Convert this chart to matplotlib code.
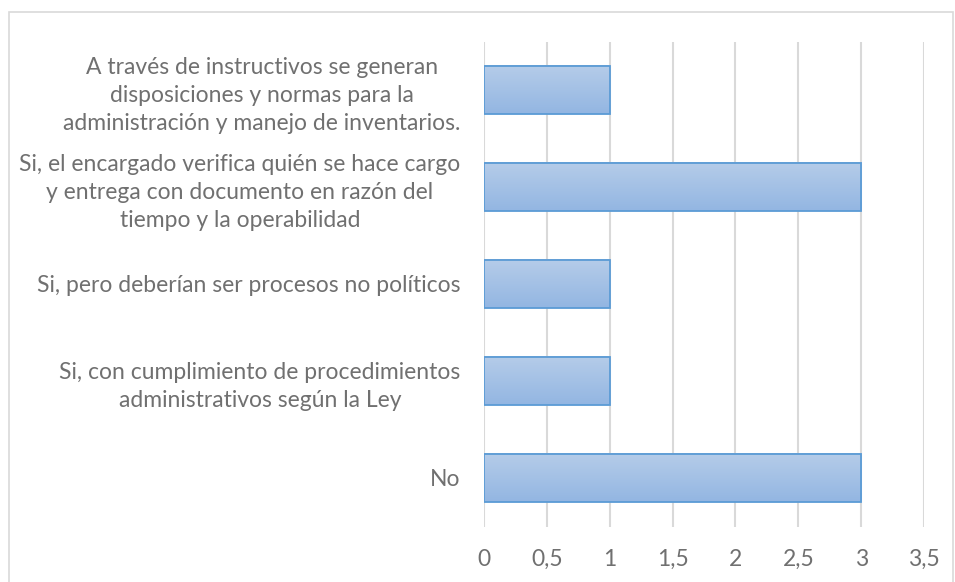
import numpy as np
import matplotlib
matplotlib.use("Agg")
import matplotlib.pyplot as plt
from matplotlib.colors import LinearSegmentedColormap
from matplotlib.patches import Rectangle

categories = [
    "A través de instructivos se generan\ndisposiciones y normas para la\nadministración y manejo de inventarios.",
    "Si, el encargado verifica quién se hace cargo\ny entrega con documento en razón del\ntiempo y la operabilidad",
    "Si, pero deberían ser procesos no políticos",
    "Si, con cumplimiento de procedimientos\nadministrativos según la Ley",
    "No",
]
values = [1, 3, 1, 1, 3]
xticks = [0, 0.5, 1, 1.5, 2, 2.5, 3, 3.5]
xtick_labels = ["0", "0,5", "1", "1,5", "2", "2,5", "3", "3,5"]

plt.rcParams["font.family"] = ["Lato", "DejaVu Sans"]
text_col = "#707070"
grid_col = "#d9d9d9"

fig = plt.figure(figsize=(9.55, 5.82), dpi=100)
fig.patches.append(Rectangle((9 / 955, -5 / 582), 944 / 955, 575 / 582,
                             transform=fig.transFigure, fill=False,
                             edgecolor=grid_col, linewidth=1.2))
ax = fig.add_axes([484 / 955, 1 - 526.5 / 582, 440 / 955, 485 / 582])

cmap = LinearSegmentedColormap.from_list("bar", ["#93b6e2", "#b5cce9"])
grad = np.linspace(0, 1, 100).reshape(-1, 1)
pos = np.arange(len(categories))[::-1]
h = 0.5
for y, v in zip(pos, values):
    ax.imshow(grad, extent=[0, v, y - h / 2, y + h / 2], origin="lower",
              cmap=cmap, aspect="auto", zorder=2)
    ax.add_patch(Rectangle((0, y - h / 2), v, h, fill=False,
                           edgecolor="#5b9bd5", linewidth=1.3, zorder=3))

ax.set_xlim(0, 3.5)
ax.set_ylim(-0.5, len(categories) - 0.5)
ax.set_xticks(xticks)
ax.set_xticklabels(xtick_labels)
ax.set_yticks(pos)
ax.set_yticklabels(categories, multialignment="center", linespacing=1.42)
ax.tick_params(axis="both", length=0, colors=text_col, labelsize=16.5)
ax.tick_params(axis="y", pad=17)
ax.tick_params(axis="x", pad=16)
ax.grid(axis="x", color=grid_col, linewidth=1.5, zorder=0)
ax.set_axisbelow(True)
for s in ax.spines.values():
    s.set_visible(False)

fig.savefig("out.png", dpi=100)
